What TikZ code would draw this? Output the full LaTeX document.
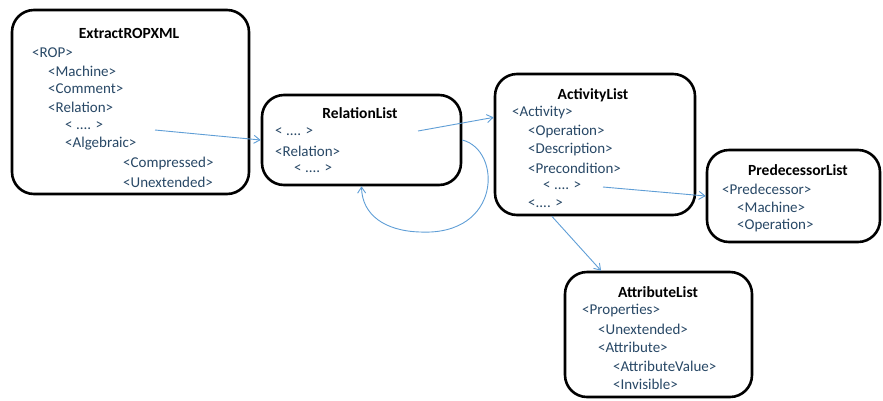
\documentclass[tikz,border=0pt]{standalone}
\usepackage{fontspec}
\setmainfont{Carlito}
\usetikzlibrary{arrows.meta}
\definecolor{tagtext}{RGB}{40,72,102}
\definecolor{linkblue}{RGB}{95,158,214}
\tikzset{
  listbox/.style={draw=black, line width=2.6pt, rounded corners=22pt, fill=white, inner sep=0pt},
  boxtitle/.style={font=\fontsize{15.5}{17}\selectfont\bfseries, text=black, inner sep=0pt},
  tag/.style={font=\fontsize{15}{17}\selectfont, text=tagtext, anchor=west, inner sep=0pt},
  link/.style={draw=linkblue, line width=0.9pt, -{Straight Barb[length=6pt,width=8pt]}}
}
\begin{document}
\begin{tikzpicture}[x=1pt,y=-1pt]
\useasboundingbox (0,0) rectangle (883,400);

% boxes
\node[listbox, minimum width=237pt, minimum height=184pt] (ext) at (130.5,102) {};
\node[listbox, minimum width=199pt, minimum height=90pt] (rel) at (361.5,140) {};
\node[listbox, minimum width=200pt, minimum height=141pt] (act) at (595,144.5) {};
\node[listbox, minimum width=173pt, minimum height=92pt] (pre) at (793.5,196) {};
\node[listbox, minimum width=187pt, minimum height=125pt] (att) at (658.5,334.5) {};

% ExtractROPXML
\node[boxtitle] (extT) at (129,33) {ExtractROPXML};
\node[tag] (ex1) at (32,53) {<ROP>};
\node[tag] (ex2) at (48,71) {<Machine>};
\node[tag] (ex3) at (48,89) {<Comment>};
\node[tag] (ex4) at (48,107) {<Relation>};
\node[tag] (ex5) at (65,126) {< .... >};
\node[tag] (ex6) at (65,144) {<Algebraic>};
\node[tag] (ex7) at (123,163) {<Compressed>};
\node[tag] (ex8) at (123,182) {<Unextended>};

% RelationList
\node[boxtitle] (relT) at (360,113) {RelationList};
\node[tag] (re1) at (275,132) {< .... >};
\node[tag] (re2) at (275,151) {<Relation>};
\node[tag] (re3) at (294,169) {< .... >};

% ActivityList
\node[boxtitle] (actT) at (593,95) {ActivityList};
\node[tag] (ac1) at (512,113) {<Activity>};
\node[tag] (ac2) at (528,132) {<Operation>};
\node[tag] (ac3) at (528,150) {<Description>};
\node[tag] (ac4) at (528,168) {<Precondition>};
\node[tag] (ac5) at (543,186) {< .... >};
\node[tag] (ac6) at (528,204) {<.... >};

% PredecessorList
\node[boxtitle] (preT) at (798,170) {PredecessorList};
\node[tag] (pr1) at (722,189) {<Predecessor>};
\node[tag] (pr2) at (737,207) {<Machine>};
\node[tag] (pr3) at (737,226) {<Operation>};

% AttributeList
\node[boxtitle] (attT) at (658,292) {AttributeList};
\node[tag] (at1) at (582,311) {<Properties>};
\node[tag] (at2) at (598,329) {<Unextended>};
\node[tag] (at3) at (598,347) {<Attribute>};
\node[tag] (at4) at (613,366) {<AttributeValue>};
\node[tag] (at5) at (613,384) {<Invisible>};

% connectors
\coordinate (extOut) at (155,130);
\coordinate (relOut) at (418,131);
\coordinate (actOut) at (603,187);
\draw[link] (extOut) -- (rel.west);
\draw[link] (relOut) -- (act.165);
\draw[link] (rel.east) .. controls (502,150) and (502,236) .. (420,232)
                       .. controls (385,231) and (362,215) .. (rel.south);
\draw[link] (actOut) -- (pre.west);
\draw[link] (act.-121) -- (att.132);
\end{tikzpicture}
\end{document}
